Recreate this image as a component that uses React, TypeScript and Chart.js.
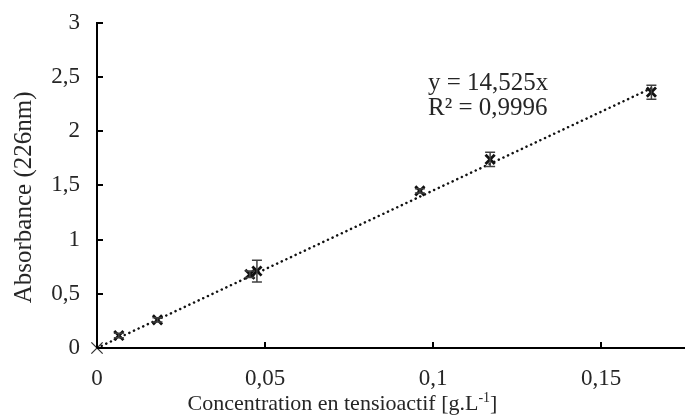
import React, { useEffect, useRef } from "react";
import { Chart, registerables } from "chart.js";

Chart.register(...registerables);

// Measured data (concentration g/L, absorbance at 226 nm, error)
const concentrations = [0, 0.0065, 0.018, 0.0455, 0.0476, 0.0961, 0.117, 0.165];
const absorbances = [0, 0.115, 0.26, 0.68, 0.71, 1.45, 1.74, 2.36];
const errors = [0, 0.02, 0.02, 0.03, 0.1, 0.02, 0.065, 0.065];

// Trendline endpoints (y = 14,525x)
const trendX = [0, 0.165];
const trendY = [0, 2.397];

const xTicks = [0, 0.05, 0.1, 0.15];
const yTicks = [0, 0.5, 1, 1.5, 2, 2.5, 3];
const equationLines = ["y = 14,525x", "R² = 0,9996"];
const xTitleMain = "Concentration en tensioactif [g.L";
const xTitleSup = "-1";
const xTitleEnd = "]";
const yTitle = "Absorbance (226nm)";

const fmt = (v: number) => String(Number(v.toFixed(3))).replace(".", ",");
const TEXT = "#262626";
const FONT = "'Liberation Serif'";

const errorBarPlugin = {
  id: "errorBars",
  afterDatasetsDraw(chart: any) {
    const ctx = chart.ctx;
    const xs = chart.scales.x;
    const ys = chart.scales.y;
    ctx.save();
    ctx.strokeStyle = "#404040";
    ctx.lineWidth = 1.5;
    concentrations.forEach((c, i) => {
      const e = errors[i];
      if (!e) return;
      const px = xs.getPixelForValue(c);
      const top = ys.getPixelForValue(absorbances[i] + e);
      const bot = ys.getPixelForValue(absorbances[i] - e);
      ctx.beginPath();
      ctx.moveTo(px, top);
      ctx.lineTo(px, bot);
      ctx.moveTo(px - 5, top);
      ctx.lineTo(px + 5, top);
      ctx.moveTo(px - 5, bot);
      ctx.lineTo(px + 5, bot);
      ctx.stroke();
    });
    ctx.restore();
  },
};

const decorPlugin = {
  id: "decor",
  afterDraw(chart: any) {
    const ctx = chart.ctx;
    const xs = chart.scales.x;
    const ys = chart.scales.y;
    const area = chart.chartArea;
    ctx.save();
    ctx.strokeStyle = "#000";
    ctx.lineWidth = 2;
    ctx.beginPath();
    yTicks.forEach((v) => {
      const py = Math.round(ys.getPixelForValue(v));
      ctx.moveTo(area.left, py);
      ctx.lineTo(area.left + 6, py);
    });
    xTicks.forEach((v) => {
      const px = Math.round(xs.getPixelForValue(v));
      ctx.moveTo(px, area.bottom);
      ctx.lineTo(px, area.bottom - 6);
    });
    ctx.stroke();

    // equation text
    ctx.fillStyle = TEXT;
    ctx.font = `25px ${FONT}`;
    ctx.textAlign = "left";
    ctx.textBaseline = "middle";
    const tx = xs.getPixelForValue(0.0985);
    const ty = ys.getPixelForValue(2.44);
    equationLines.forEach((t, i) => ctx.fillText(t, tx, ty + i * 25));

    // x axis title with superscript, centred on the canvas
    ctx.textBaseline = "alphabetic";
    const mainFont = `22px ${FONT}`;
    const supFont = `14px ${FONT}`;
    ctx.font = mainFont;
    const w1 = ctx.measureText(xTitleMain).width;
    const w3 = ctx.measureText(xTitleEnd).width;
    ctx.font = supFont;
    const w2 = ctx.measureText(xTitleSup).width;
    const total = w1 + w2 + w3;
    let x0 = chart.width / 2 - total / 2;
    const base = chart.height - 9;
    ctx.font = mainFont;
    ctx.fillText(xTitleMain, x0, base);
    x0 += w1;
    ctx.font = supFont;
    ctx.fillText(xTitleSup, x0, base - 8);
    x0 += w2;
    ctx.font = mainFont;
    ctx.fillText(xTitleEnd, x0, base);

    // y axis title
    ctx.save();
    ctx.translate(24, (area.top + area.bottom) / 2 + 12);
    ctx.rotate(-Math.PI / 2);
    ctx.font = `25px ${FONT}`;
    ctx.textAlign = "center";
    ctx.textBaseline = "middle";
    ctx.fillText(yTitle, 0, 0);
    ctx.restore();
    ctx.restore();
  },
};

export default function App() {
  const ref = useRef<HTMLCanvasElement>(null);
  useEffect(() => {
    document.body.style.margin = "0";
    const canvas = ref.current!;
    const chart = new Chart(canvas, {
      type: "scatter",
      data: {
        datasets: [
          {
            type: "line",
            data: trendX.map((x, i) => ({ x, y: trendY[i] })),
            borderColor: "#111",
            borderWidth: 2.5,
            borderDash: [0.1, 5],
            borderCapStyle: "round",
            pointRadius: 0,
            fill: false,
            order: 2,
          } as any,
          {
            data: concentrations.map((x, i) => ({ x, y: absorbances[i] })),
            pointStyle: "crossRot",
            pointRadius: concentrations.map((c) => (c === 0 ? 8 : 6.5)),
            pointBorderWidth: concentrations.map((c) => (c === 0 ? 1.3 : 2.8)),
            borderColor: concentrations.map((c) => (c === 0 ? "#333" : "#111")),
            backgroundColor: "#111",
            clip: false,
            order: 1,
          } as any,
        ],
      },
      options: {
        animation: false,
        responsive: false,
        layout: { autoPadding: false, padding: { top: 22, right: 0, left: 0, bottom: 0 } },
        plugins: { legend: { display: false }, tooltip: { enabled: false } },
        scales: {
          x: {
            type: "linear",
            min: 0,
            max: 0.175,
            afterBuildTicks: (s: any) => {
              s.ticks = xTicks.map((value) => ({ value }));
            },
            afterFit: (s: any) => {
              s.height = 71;
            },
            grid: { display: false },
            border: { display: true, color: "#000", width: 2 },
            ticks: {
              callback: (v: any) => fmt(Number(v)),
              color: TEXT,
              font: { family: FONT, size: 23 },
              padding: 9,
              maxRotation: 0,
            },
          },
          y: {
            type: "linear",
            min: 0,
            max: 3,
            afterBuildTicks: (s: any) => {
              s.ticks = yTicks.map((value) => ({ value }));
            },
            afterFit: (s: any) => {
              s.width = 97;
            },
            grid: { display: false },
            border: { display: true, color: "#000", width: 2 },
            ticks: {
              callback: (v: any) => fmt(Number(v)),
              color: TEXT,
              font: { family: FONT, size: 23 },
              padding: 9,
            },
          },
        },
      },
      plugins: [errorBarPlugin, decorPlugin],
    });
    return () => chart.destroy();
  }, []);
  return <canvas ref={ref} width={685} height={419} style={{ display: "block" }} />;
}
